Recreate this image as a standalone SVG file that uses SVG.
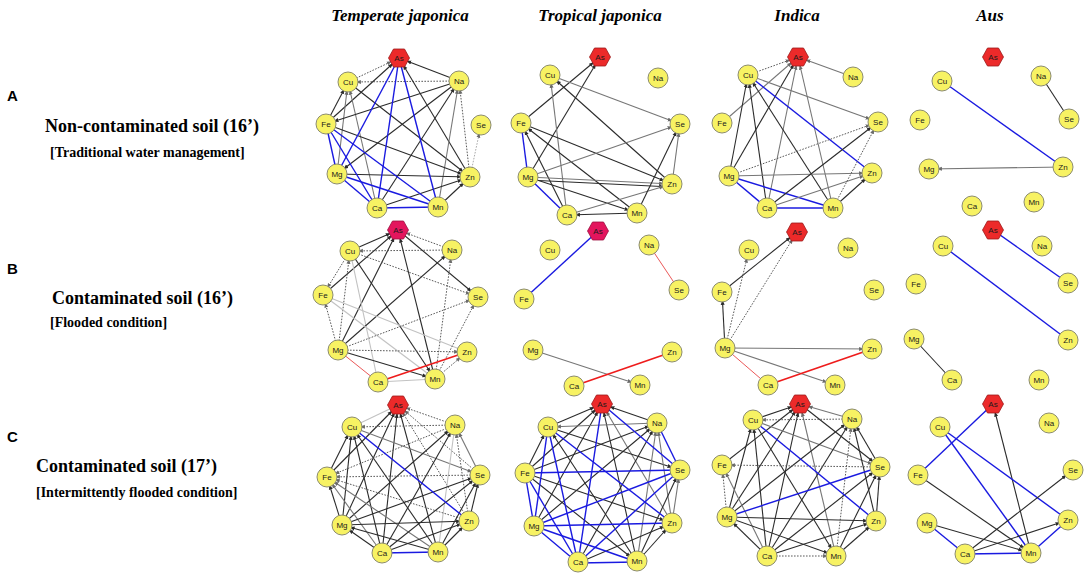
<svg xmlns="http://www.w3.org/2000/svg" xmlns:xlink="http://www.w3.org/1999/xlink" width="1084" height="573" viewBox="0 0 1084 573">
<defs>
<polygon id="hex" points="-10.5,0 -5.5,-9 5.5,-9 10.5,0 5.5,9 -5.5,9"/>
<marker id="ahk" viewBox="0 -3 6 6" refX="15.5" refY="0" markerWidth="5" markerHeight="5" markerUnits="userSpaceOnUse" orient="auto"><path d="M0,-2.4 L6,0 L0,2.4 Z" fill="#2b2b2b"/></marker>
<marker id="ahg" viewBox="0 -3 6 6" refX="15.5" refY="0" markerWidth="5" markerHeight="5" markerUnits="userSpaceOnUse" orient="auto"><path d="M0,-2.4 L6,0 L0,2.4 Z" fill="#6a6a6a"/></marker>
</defs>
<style>
.k{stroke:#2b2b2b;stroke-width:1.1;marker-end:url(#ahk)}
.g{stroke:#767676;stroke-width:1.1;marker-end:url(#ahg)}
.l{stroke:#c2c2c2;stroke-width:1.1}
.d{stroke:#5a5a5a;stroke-width:1;stroke-dasharray:1.6 1.4;marker-end:url(#ahg)}
.p{stroke:#2b2b2b;stroke-width:1.1}
.b{stroke:#1a1ae0;stroke-width:1.4}
.r{stroke:#ee1c1c;stroke-width:1.7}
.rt{stroke:#e84545;stroke-width:0.9}
.n circle{fill:#f7f263;stroke:#8c8c6e;stroke-width:1}
.n text{font-family:"Liberation Sans",Arial,sans-serif;font-size:8px;text-anchor:middle;fill:#1a1a1a}
.hx{fill:#ec2a2a;stroke:#9c1a1a;stroke-width:0.8}
.hp{fill:#e3155d;stroke:#9c1040;stroke-width:0.8}
.title{font-family:"Liberation Serif","Times New Roman",serif;font-size:17px;font-weight:bold;font-style:italic;text-anchor:middle;fill:#000}
.let{font-family:"Liberation Sans",Arial,sans-serif;font-size:15px;font-weight:bold;fill:#000}
.main{font-family:"Liberation Serif","Times New Roman",serif;font-size:18px;font-weight:bold;fill:#000}
.sub{font-family:"Liberation Serif","Times New Roman",serif;font-size:14px;font-weight:bold;fill:#000}
</style>
<rect width="1084" height="573" fill="#fff"/>

<g id="titles">
<text class="title" x="400" y="21">Temperate japonica</text>
<text class="title" x="600" y="21">Tropical japonica</text>
<text class="title" x="797" y="21">Indica</text>
<text class="title" x="990" y="21">Aus</text>
</g>
<g id="row-labels">
<text class="let" x="7" y="101">A</text>
<text class="main" x="45" y="132">Non-contaminated soil (16’)</text>
<text class="sub" x="50" y="157">[Traditional water management]</text>
<text class="let" x="7" y="274">B</text>
<text class="main" x="52" y="304">Contaminated soil  (16’)</text>
<text class="sub" x="50" y="327">[Flooded condition]</text>
<text class="let" x="7" y="442">C</text>
<text class="main" x="36" y="472">Contaminated soil (17’)</text>
<text class="sub" x="36" y="497">[Intermittently flooded condition]</text>
</g>

<g id="connectors" fill="none">
<!-- A1 -->
<line class="d" x1="348" y1="82" x2="399" y2="58"/>
<line class="k" x1="459" y1="81" x2="399" y2="58"/>
<line class="d" x1="459" y1="81" x2="348" y2="82"/>
<line class="k" x1="326" y1="124" x2="399" y2="58"/>
<line class="k" x1="470" y1="177" x2="399" y2="58"/>
<line class="k" x1="326" y1="124" x2="348" y2="82"/>
<line class="g" x1="337" y1="174" x2="348" y2="82"/>
<line class="g" x1="377" y1="208" x2="348" y2="82"/>
<line class="k" x1="348" y1="82" x2="470" y2="177"/>
<line class="k" x1="459" y1="81" x2="326" y2="124"/>
<line class="k" x1="459" y1="81" x2="337" y2="174"/>
<line class="k" x1="377" y1="208" x2="459" y2="81"/>
<line class="g" x1="438" y1="207" x2="459" y2="81"/>
<line class="d" x1="470" y1="177" x2="459" y2="81"/>
<line class="k" x1="326" y1="124" x2="470" y2="177"/>
<line class="k" x1="337" y1="174" x2="470" y2="177"/>
<line class="k" x1="377" y1="208" x2="470" y2="177"/>
<line class="k" x1="438" y1="207" x2="470" y2="177"/>
<line class="d" x1="470" y1="177" x2="481" y2="125" style="stroke:#aaa"/>
<line class="b" x1="399" y1="58" x2="337" y2="174"/>
<line class="b" x1="399" y1="58" x2="377" y2="208"/>
<line class="b" x1="399" y1="58" x2="438" y2="207"/>
<line class="b" x1="326" y1="124" x2="337" y2="174"/>
<line class="b" x1="326" y1="124" x2="377" y2="208"/>
<line class="b" x1="326" y1="124" x2="438" y2="207"/>
<line class="b" x1="337" y1="174" x2="377" y2="208"/>
<line class="b" x1="337" y1="174" x2="438" y2="207"/>
<line class="b" x1="377" y1="208" x2="438" y2="207"/>
<!-- A2 -->
<line class="k" x1="521" y1="123" x2="600" y2="57"/>
<line class="k" x1="528" y1="177" x2="600" y2="57"/>
<line class="g" x1="550" y1="75" x2="680" y2="124"/>
<line class="k" x1="672" y1="184" x2="550" y2="75"/>
<line class="g" x1="567" y1="215" x2="550" y2="75"/>
<line class="b" x1="521" y1="123" x2="528" y2="177"/>
<line class="k" x1="521" y1="123" x2="672" y2="184"/>
<line class="k" x1="637" y1="213" x2="521" y2="123"/>
<line class="k" x1="567" y1="215" x2="521" y2="123"/>
<line class="g" x1="528" y1="177" x2="680" y2="124"/>
<line class="g" x1="528" y1="177" x2="672" y2="184"/>
<line class="k" x1="528" y1="180" x2="672" y2="187"/>
<line class="k" x1="528" y1="177" x2="637" y2="213"/>
<line class="b" x1="528" y1="177" x2="567" y2="215"/>
<line class="g" x1="567" y1="215" x2="672" y2="184"/>
<line class="k" x1="637" y1="213" x2="567" y2="215"/>
<line class="k" x1="637" y1="213" x2="680" y2="124"/>
<line class="g" x1="672" y1="184" x2="680" y2="124"/>
<!-- A3 -->
<line class="d" x1="748" y1="75" x2="798" y2="57"/>
<line class="g" x1="853" y1="77" x2="798" y2="57"/>
<line class="g" x1="722" y1="123" x2="798" y2="57"/>
<line class="k" x1="729" y1="176" x2="798" y2="57"/>
<line class="g" x1="767" y1="208" x2="798" y2="57"/>
<line class="g" x1="833" y1="208" x2="798" y2="57"/>
<line class="b" x1="748" y1="75" x2="872" y2="173"/>
<line class="g" x1="748" y1="75" x2="878" y2="122"/>
<line class="k" x1="729" y1="176" x2="748" y2="75"/>
<line class="k" x1="767" y1="208" x2="748" y2="75"/>
<line class="k" x1="833" y1="208" x2="748" y2="75"/>
<line class="d" x1="729" y1="176" x2="878" y2="122"/>
<line class="g" x1="729" y1="176" x2="872" y2="173"/>
<line class="b" x1="729" y1="176" x2="833" y2="208"/>
<line class="b" x1="729" y1="176" x2="767" y2="208"/>
<line class="k" x1="767" y1="208" x2="878" y2="122"/>
<line class="g" x1="767" y1="208" x2="872" y2="173"/>
<line class="b" x1="767" y1="208" x2="833" y2="208"/>
<line class="d" x1="833" y1="208" x2="878" y2="122"/>
<line class="k" x1="833" y1="208" x2="872" y2="173"/>
<!-- A4 -->
<line class="b" x1="942" y1="81" x2="1063" y2="167"/>
<line class="p" x1="1041" y1="76" x2="1069" y2="119"/>
<line class="g" x1="1063" y1="167" x2="929" y2="169"/>
<!-- B1 -->
<line class="k" x1="350" y1="251" x2="398" y2="230"/>
<line class="d" x1="452" y1="250" x2="398" y2="230"/>
<line class="k" x1="323" y1="295" x2="398" y2="230"/>
<line class="k" x1="338" y1="350" x2="398" y2="230"/>
<line class="k" x1="435" y1="379" x2="398" y2="230"/>
<line class="k" x1="398" y1="230" x2="478" y2="297"/>
<line class="d" x1="452" y1="250" x2="350" y2="251"/>
<line class="d" x1="350" y1="251" x2="478" y2="297"/>
<line class="k" x1="350" y1="251" x2="435" y2="379"/>
<line class="l" x1="350" y1="251" x2="378" y2="382"/>
<line class="d" x1="350" y1="251" x2="323" y2="295"/>
<line class="d" x1="338" y1="350" x2="350" y2="251"/>
<line class="k" x1="338" y1="350" x2="452" y2="250"/>
<line class="d" x1="435" y1="379" x2="452" y2="250"/>
<line class="d" x1="338" y1="350" x2="323" y2="295"/>
<line class="l" x1="323" y1="295" x2="467" y2="352"/>
<line class="l" x1="323" y1="295" x2="435" y2="379"/>
<line class="d" x1="338" y1="350" x2="478" y2="297"/>
<line class="d" x1="435" y1="379" x2="478" y2="297"/>
<line class="d" x1="338" y1="350" x2="467" y2="352"/>
<line class="k" x1="338" y1="350" x2="435" y2="379"/>
<line class="rt" x1="338" y1="350" x2="378" y2="382"/>
<line class="r" x1="378" y1="382" x2="467" y2="352"/>
<line class="l" x1="378" y1="382" x2="435" y2="379"/>
<line class="d" x1="435" y1="379" x2="467" y2="352"/>
<!-- B2 -->
<line class="b" x1="598" y1="231" x2="524" y2="299"/>
<line class="rt" x1="649" y1="245" x2="679" y2="290"/>
<line class="g" x1="533" y1="350" x2="640" y2="385"/>
<line class="r" x1="574" y1="386" x2="672" y2="352"/>
<!-- B3 -->
<line class="k" x1="722" y1="292" x2="797" y2="232"/>
<line class="d" x1="725" y1="348" x2="797" y2="232"/>
<line class="d" x1="725" y1="348" x2="749" y2="250"/>
<line class="k" x1="725" y1="348" x2="722" y2="292"/>
<line class="g" x1="725" y1="348" x2="872" y2="349"/>
<line class="g" x1="725" y1="348" x2="835" y2="385"/>
<line class="rt" x1="725" y1="348" x2="768" y2="385"/>
<line class="r" x1="768" y1="385" x2="872" y2="349"/>
<!-- B4 -->
<line class="b" x1="993" y1="230" x2="1068" y2="283"/>
<line class="b" x1="943" y1="246" x2="1068" y2="340"/>
<line class="p" x1="914" y1="339" x2="952" y2="380"/>
<!-- C1 -->
<line class="l" x1="352" y1="427" x2="398" y2="405"/>
<line class="d" x1="455" y1="425" x2="398" y2="405"/>
<line class="k" x1="327" y1="477" x2="398" y2="405"/>
<line class="k" x1="342" y1="525" x2="398" y2="405"/>
<line class="k" x1="382" y1="553" x2="398" y2="405"/>
<line class="k" x1="438" y1="552" x2="398" y2="405"/>
<line class="d" x1="480" y1="475" x2="398" y2="405"/>
<line class="d" x1="469" y1="521" x2="398" y2="405"/>
<line class="d" x1="455" y1="425" x2="352" y2="427"/>
<line class="g" x1="352" y1="427" x2="480" y2="475"/>
<line class="k" x1="327" y1="477" x2="352" y2="427"/>
<line class="k" x1="342" y1="525" x2="352" y2="427"/>
<line class="k" x1="382" y1="553" x2="352" y2="427"/>
<line class="k" x1="438" y1="552" x2="352" y2="427"/>
<line class="d" x1="455" y1="425" x2="327" y2="477"/>
<line class="k" x1="342" y1="525" x2="455" y2="425"/>
<line class="k" x1="382" y1="553" x2="455" y2="425"/>
<line class="l" x1="455" y1="425" x2="438" y2="552"/>
<line class="d" x1="469" y1="521" x2="455" y2="425"/>
<line class="g" x1="480" y1="475" x2="455" y2="425"/>
<line class="d" x1="480" y1="475" x2="327" y2="477"/>
<line class="d" x1="469" y1="521" x2="327" y2="477"/>
<line class="k" x1="342" y1="525" x2="327" y2="477"/>
<line class="g" x1="382" y1="553" x2="327" y2="477"/>
<line class="g" x1="438" y1="552" x2="327" y2="477"/>
<line class="k" x1="342" y1="525" x2="480" y2="475"/>
<line class="k" x1="382" y1="553" x2="480" y2="475"/>
<line class="k" x1="438" y1="552" x2="480" y2="475"/>
<line class="k" x1="469" y1="521" x2="480" y2="475"/>
<line class="k" x1="342" y1="525" x2="469" y2="521"/>
<line class="k" x1="438" y1="552" x2="342" y2="525"/>
<line class="k" x1="382" y1="553" x2="342" y2="525"/>
<line class="k" x1="382" y1="553" x2="469" y2="521"/>
<line class="k" x1="438" y1="552" x2="469" y2="521"/>
<line class="b" x1="352" y1="427" x2="469" y2="521"/>
<line class="b" x1="382" y1="553" x2="438" y2="552"/>
<!-- C2 -->
<line class="k" x1="548" y1="427" x2="602" y2="404"/>
<line class="k" x1="657" y1="423" x2="602" y2="404"/>
<line class="k" x1="525" y1="473" x2="602" y2="404"/>
<line class="k" x1="534" y1="526" x2="602" y2="404"/>
<line class="k" x1="637" y1="562" x2="602" y2="404"/>
<line class="g" x1="672" y1="523" x2="602" y2="404"/>
<line class="g" x1="657" y1="423" x2="548" y2="427"/>
<line class="k" x1="548" y1="427" x2="680" y2="470"/>
<line class="k" x1="525" y1="473" x2="548" y2="427"/>
<line class="k" x1="637" y1="562" x2="548" y2="427"/>
<line class="k" x1="525" y1="473" x2="657" y2="423"/>
<line class="k" x1="534" y1="526" x2="657" y2="423"/>
<line class="k" x1="578" y1="563" x2="657" y2="423"/>
<line class="g" x1="637" y1="562" x2="657" y2="423"/>
<line class="g" x1="672" y1="523" x2="657" y2="423"/>
<line class="k" x1="525" y1="473" x2="672" y2="523"/>
<line class="k" x1="525" y1="473" x2="637" y2="562"/>
<line class="k" x1="637" y1="562" x2="680" y2="470"/>
<line class="g" x1="672" y1="523" x2="680" y2="470"/>
<line class="k" x1="578" y1="563" x2="672" y2="523"/>
<line class="k" x1="637" y1="562" x2="672" y2="523"/>
<line class="b" x1="602" y1="404" x2="578" y2="563"/>
<line class="b" x1="602" y1="404" x2="680" y2="470"/>
<line class="b" x1="548" y1="427" x2="672" y2="523"/>
<line class="b" x1="548" y1="427" x2="534" y2="526"/>
<line class="b" x1="548" y1="427" x2="578" y2="563"/>
<line class="b" x1="657" y1="423" x2="680" y2="470"/>
<line class="b" x1="525" y1="473" x2="680" y2="470"/>
<line class="b" x1="525" y1="473" x2="578" y2="563"/>
<line class="b" x1="525" y1="473" x2="534" y2="526"/>
<line class="b" x1="680" y1="470" x2="534" y2="526"/>
<line class="b" x1="680" y1="470" x2="578" y2="563"/>
<line class="b" x1="534" y1="526" x2="672" y2="523"/>
<line class="b" x1="534" y1="526" x2="637" y2="562"/>
<line class="b" x1="534" y1="526" x2="578" y2="563"/>
<line class="b" x1="578" y1="563" x2="637" y2="562"/>
<!-- C3 -->
<line class="g" x1="852" y1="419" x2="800" y2="404"/>
<line class="k" x1="753" y1="420" x2="800" y2="404"/>
<line class="k" x1="722" y1="465" x2="800" y2="404"/>
<line class="k" x1="727" y1="517" x2="800" y2="404"/>
<line class="k" x1="767" y1="556" x2="800" y2="404"/>
<line class="k" x1="800" y1="404" x2="880" y2="467"/>
<line class="g" x1="836" y1="556" x2="800" y2="404"/>
<line class="d" x1="852" y1="419" x2="753" y2="420"/>
<line class="g" x1="753" y1="420" x2="880" y2="467"/>
<line class="k" x1="727" y1="517" x2="753" y2="420"/>
<line class="k" x1="767" y1="556" x2="753" y2="420"/>
<line class="k" x1="753" y1="420" x2="836" y2="556"/>
<line class="k" x1="727" y1="517" x2="852" y2="419"/>
<line class="k" x1="767" y1="556" x2="852" y2="419"/>
<line class="d" x1="836" y1="556" x2="852" y2="419"/>
<line class="k" x1="876" y1="521" x2="852" y2="419"/>
<line class="k" x1="880" y1="467" x2="852" y2="419"/>
<line class="d" x1="880" y1="467" x2="722" y2="465"/>
<line class="d" x1="727" y1="517" x2="722" y2="465"/>
<line class="g" x1="767" y1="556" x2="722" y2="465"/>
<line class="k" x1="767" y1="556" x2="880" y2="467"/>
<line class="k" x1="836" y1="556" x2="880" y2="467"/>
<line class="k" x1="876" y1="521" x2="880" y2="467"/>
<line class="k" x1="727" y1="517" x2="876" y2="521"/>
<line class="k" x1="727" y1="517" x2="836" y2="556"/>
<line class="k" x1="767" y1="556" x2="727" y2="517"/>
<line class="k" x1="767" y1="556" x2="876" y2="521"/>
<line class="d" x1="767" y1="556" x2="836" y2="556"/>
<line class="k" x1="836" y1="556" x2="876" y2="521"/>
<line class="b" x1="753" y1="420" x2="876" y2="521"/>
<line class="b" x1="880" y1="467" x2="727" y2="517"/>
<!-- C4 -->
<line class="b" x1="993" y1="404" x2="918" y2="475"/>
<line class="k" x1="1031" y1="553" x2="993" y2="404"/>
<line class="b" x1="940" y1="427" x2="1031" y2="553"/>
<line class="b" x1="940" y1="427" x2="1068" y2="520"/>
<line class="k" x1="918" y1="475" x2="1031" y2="553"/>
<line class="k" x1="965" y1="554" x2="1073" y2="470"/>
<line class="k" x1="927" y1="523" x2="1031" y2="553"/>
<line class="b" x1="927" y1="523" x2="965" y2="554"/>
<line class="k" x1="965" y1="554" x2="1068" y2="520"/>
<line class="b" x1="965" y1="554" x2="1031" y2="553"/>
<line class="b" x1="1031" y1="553" x2="1068" y2="520"/>
</g>

<!-- Row A nodes -->
<g id="a1-as" class="n"><use href="#hex" x="399" y="58" class="hx"/><text x="399" y="61">As</text></g>
<g id="a1-cu" class="n"><circle cx="348" cy="82" r="10"/><text x="348" y="85">Cu</text></g>
<g id="a1-na" class="n"><circle cx="459" cy="81" r="10"/><text x="459" y="84">Na</text></g>
<g id="a1-fe" class="n"><circle cx="326" cy="124" r="10"/><text x="326" y="127">Fe</text></g>
<g id="a1-se" class="n"><circle cx="481" cy="125" r="10"/><text x="481" y="128">Se</text></g>
<g id="a1-mg" class="n"><circle cx="337" cy="174" r="10"/><text x="337" y="177">Mg</text></g>
<g id="a1-zn" class="n"><circle cx="470" cy="177" r="10"/><text x="470" y="180">Zn</text></g>
<g id="a1-ca" class="n"><circle cx="377" cy="208" r="10"/><text x="377" y="211">Ca</text></g>
<g id="a1-mn" class="n"><circle cx="438" cy="207" r="10"/><text x="438" y="210">Mn</text></g>

<g id="a2-as" class="n"><use href="#hex" x="600" y="57" class="hx"/><text x="600" y="60">As</text></g>
<g id="a2-cu" class="n"><circle cx="550" cy="75" r="10"/><text x="550" y="78">Cu</text></g>
<g id="a2-na" class="n"><circle cx="658" cy="78" r="10"/><text x="658" y="81">Na</text></g>
<g id="a2-fe" class="n"><circle cx="521" cy="123" r="10"/><text x="521" y="126">Fe</text></g>
<g id="a2-se" class="n"><circle cx="680" cy="124" r="10"/><text x="680" y="127">Se</text></g>
<g id="a2-mg" class="n"><circle cx="528" cy="177" r="10"/><text x="528" y="180">Mg</text></g>
<g id="a2-zn" class="n"><circle cx="672" cy="184" r="10"/><text x="672" y="187">Zn</text></g>
<g id="a2-ca" class="n"><circle cx="567" cy="215" r="10"/><text x="567" y="218">Ca</text></g>
<g id="a2-mn" class="n"><circle cx="637" cy="213" r="10"/><text x="637" y="216">Mn</text></g>

<g id="a3-as" class="n"><use href="#hex" x="798" y="57" class="hx"/><text x="798" y="60">As</text></g>
<g id="a3-cu" class="n"><circle cx="748" cy="75" r="10"/><text x="748" y="78">Cu</text></g>
<g id="a3-na" class="n"><circle cx="853" cy="77" r="10"/><text x="853" y="80">Na</text></g>
<g id="a3-fe" class="n"><circle cx="722" cy="123" r="10"/><text x="722" y="126">Fe</text></g>
<g id="a3-se" class="n"><circle cx="878" cy="122" r="10"/><text x="878" y="125">Se</text></g>
<g id="a3-mg" class="n"><circle cx="729" cy="176" r="10"/><text x="729" y="179">Mg</text></g>
<g id="a3-zn" class="n"><circle cx="872" cy="173" r="10"/><text x="872" y="176">Zn</text></g>
<g id="a3-ca" class="n"><circle cx="767" cy="208" r="10"/><text x="767" y="211">Ca</text></g>
<g id="a3-mn" class="n"><circle cx="833" cy="208" r="10"/><text x="833" y="211">Mn</text></g>

<g id="a4-as" class="n"><use href="#hex" x="993" y="57" class="hx"/><text x="993" y="60">As</text></g>
<g id="a4-cu" class="n"><circle cx="942" cy="81" r="10"/><text x="942" y="84">Cu</text></g>
<g id="a4-na" class="n"><circle cx="1041" cy="76" r="10"/><text x="1041" y="79">Na</text></g>
<g id="a4-fe" class="n"><circle cx="920" cy="120" r="10"/><text x="920" y="123">Fe</text></g>
<g id="a4-se" class="n"><circle cx="1069" cy="119" r="10"/><text x="1069" y="122">Se</text></g>
<g id="a4-mg" class="n"><circle cx="929" cy="169" r="10"/><text x="929" y="172">Mg</text></g>
<g id="a4-zn" class="n"><circle cx="1063" cy="167" r="10"/><text x="1063" y="170">Zn</text></g>
<g id="a4-ca" class="n"><circle cx="972" cy="206" r="10"/><text x="972" y="209">Ca</text></g>
<g id="a4-mn" class="n"><circle cx="1034" cy="202" r="10"/><text x="1034" y="205">Mn</text></g>

<!-- Row B nodes -->
<g id="b1-as" class="n"><use href="#hex" x="398" y="230" class="hp"/><text x="398" y="233">As</text></g>
<g id="b1-cu" class="n"><circle cx="350" cy="251" r="10"/><text x="350" y="254">Cu</text></g>
<g id="b1-na" class="n"><circle cx="452" cy="250" r="10"/><text x="452" y="253">Na</text></g>
<g id="b1-fe" class="n"><circle cx="323" cy="295" r="10"/><text x="323" y="298">Fe</text></g>
<g id="b1-se" class="n"><circle cx="478" cy="297" r="10"/><text x="478" y="300">Se</text></g>
<g id="b1-mg" class="n"><circle cx="338" cy="350" r="10"/><text x="338" y="353">Mg</text></g>
<g id="b1-zn" class="n"><circle cx="467" cy="352" r="10"/><text x="467" y="355">Zn</text></g>
<g id="b1-ca" class="n"><circle cx="378" cy="382" r="10"/><text x="378" y="385">Ca</text></g>
<g id="b1-mn" class="n"><circle cx="435" cy="379" r="10"/><text x="435" y="382">Mn</text></g>

<g id="b2-as" class="n"><use href="#hex" x="598" y="231" class="hp"/><text x="598" y="234">As</text></g>
<g id="b2-cu" class="n"><circle cx="550" cy="250" r="10"/><text x="550" y="253">Cu</text></g>
<g id="b2-na" class="n"><circle cx="649" cy="245" r="10"/><text x="649" y="248">Na</text></g>
<g id="b2-fe" class="n"><circle cx="524" cy="299" r="10"/><text x="524" y="302">Fe</text></g>
<g id="b2-se" class="n"><circle cx="679" cy="290" r="10"/><text x="679" y="293">Se</text></g>
<g id="b2-mg" class="n"><circle cx="533" cy="350" r="10"/><text x="533" y="353">Mg</text></g>
<g id="b2-zn" class="n"><circle cx="672" cy="352" r="10"/><text x="672" y="355">Zn</text></g>
<g id="b2-ca" class="n"><circle cx="574" cy="386" r="10"/><text x="574" y="389">Ca</text></g>
<g id="b2-mn" class="n"><circle cx="640" cy="385" r="10"/><text x="640" y="388">Mn</text></g>

<g id="b3-as" class="n"><use href="#hex" x="797" y="232" class="hx"/><text x="797" y="235">As</text></g>
<g id="b3-cu" class="n"><circle cx="749" cy="250" r="10"/><text x="749" y="253">Cu</text></g>
<g id="b3-na" class="n"><circle cx="848" cy="248" r="10"/><text x="848" y="251">Na</text></g>
<g id="b3-fe" class="n"><circle cx="722" cy="292" r="10"/><text x="722" y="295">Fe</text></g>
<g id="b3-se" class="n"><circle cx="874" cy="290" r="10"/><text x="874" y="293">Se</text></g>
<g id="b3-mg" class="n"><circle cx="725" cy="348" r="10"/><text x="725" y="351">Mg</text></g>
<g id="b3-zn" class="n"><circle cx="872" cy="349" r="10"/><text x="872" y="352">Zn</text></g>
<g id="b3-ca" class="n"><circle cx="768" cy="385" r="10"/><text x="768" y="388">Ca</text></g>
<g id="b3-mn" class="n"><circle cx="835" cy="385" r="10"/><text x="835" y="388">Mn</text></g>

<g id="b4-as" class="n"><use href="#hex" x="993" y="230" class="hx"/><text x="993" y="233">As</text></g>
<g id="b4-cu" class="n"><circle cx="943" cy="246" r="10"/><text x="943" y="249">Cu</text></g>
<g id="b4-na" class="n"><circle cx="1042" cy="246" r="10"/><text x="1042" y="249">Na</text></g>
<g id="b4-fe" class="n"><circle cx="916" cy="284" r="10"/><text x="916" y="287">Fe</text></g>
<g id="b4-se" class="n"><circle cx="1068" cy="283" r="10"/><text x="1068" y="286">Se</text></g>
<g id="b4-mg" class="n"><circle cx="914" cy="339" r="10"/><text x="914" y="342">Mg</text></g>
<g id="b4-zn" class="n"><circle cx="1068" cy="340" r="10"/><text x="1068" y="343">Zn</text></g>
<g id="b4-ca" class="n"><circle cx="952" cy="380" r="10"/><text x="952" y="383">Ca</text></g>
<g id="b4-mn" class="n"><circle cx="1039" cy="380" r="10"/><text x="1039" y="383">Mn</text></g>

<!-- Row C nodes -->
<g id="c1-as" class="n"><use href="#hex" x="398" y="405" class="hx"/><text x="398" y="408">As</text></g>
<g id="c1-cu" class="n"><circle cx="352" cy="427" r="10"/><text x="352" y="430">Cu</text></g>
<g id="c1-na" class="n"><circle cx="455" cy="425" r="10"/><text x="455" y="428">Na</text></g>
<g id="c1-fe" class="n"><circle cx="327" cy="477" r="10"/><text x="327" y="480">Fe</text></g>
<g id="c1-se" class="n"><circle cx="480" cy="475" r="10"/><text x="480" y="478">Se</text></g>
<g id="c1-mg" class="n"><circle cx="342" cy="525" r="10"/><text x="342" y="528">Mg</text></g>
<g id="c1-zn" class="n"><circle cx="469" cy="521" r="10"/><text x="469" y="524">Zn</text></g>
<g id="c1-ca" class="n"><circle cx="382" cy="553" r="10"/><text x="382" y="556">Ca</text></g>
<g id="c1-mn" class="n"><circle cx="438" cy="552" r="10"/><text x="438" y="555">Mn</text></g>

<g id="c2-as" class="n"><use href="#hex" x="602" y="404" class="hx"/><text x="602" y="407">As</text></g>
<g id="c2-cu" class="n"><circle cx="548" cy="427" r="10"/><text x="548" y="430">Cu</text></g>
<g id="c2-na" class="n"><circle cx="657" cy="423" r="10"/><text x="657" y="426">Na</text></g>
<g id="c2-fe" class="n"><circle cx="525" cy="473" r="10"/><text x="525" y="476">Fe</text></g>
<g id="c2-se" class="n"><circle cx="680" cy="470" r="10"/><text x="680" y="473">Se</text></g>
<g id="c2-mg" class="n"><circle cx="534" cy="526" r="10"/><text x="534" y="529">Mg</text></g>
<g id="c2-zn" class="n"><circle cx="672" cy="523" r="10"/><text x="672" y="526">Zn</text></g>
<g id="c2-ca" class="n"><circle cx="578" cy="562" r="10"/><text x="578" y="565">Ca</text></g>
<g id="c2-mn" class="n"><circle cx="637" cy="561" r="10"/><text x="637" y="564">Mn</text></g>

<g id="c3-as" class="n"><use href="#hex" x="800" y="404" class="hx"/><text x="800" y="407">As</text></g>
<g id="c3-cu" class="n"><circle cx="753" cy="420" r="10"/><text x="753" y="423">Cu</text></g>
<g id="c3-na" class="n"><circle cx="852" cy="419" r="10"/><text x="852" y="422">Na</text></g>
<g id="c3-fe" class="n"><circle cx="722" cy="465" r="10"/><text x="722" y="468">Fe</text></g>
<g id="c3-se" class="n"><circle cx="880" cy="467" r="10"/><text x="880" y="470">Se</text></g>
<g id="c3-mg" class="n"><circle cx="727" cy="517" r="10"/><text x="727" y="520">Mg</text></g>
<g id="c3-zn" class="n"><circle cx="876" cy="521" r="10"/><text x="876" y="524">Zn</text></g>
<g id="c3-ca" class="n"><circle cx="767" cy="556" r="10"/><text x="767" y="559">Ca</text></g>
<g id="c3-mn" class="n"><circle cx="836" cy="556" r="10"/><text x="836" y="559">Mn</text></g>

<g id="c4-as" class="n"><use href="#hex" x="993" y="404" class="hx"/><text x="993" y="407">As</text></g>
<g id="c4-cu" class="n"><circle cx="940" cy="427" r="10"/><text x="940" y="430">Cu</text></g>
<g id="c4-na" class="n"><circle cx="1049" cy="423" r="10"/><text x="1049" y="426">Na</text></g>
<g id="c4-fe" class="n"><circle cx="918" cy="475" r="10"/><text x="918" y="478">Fe</text></g>
<g id="c4-se" class="n"><circle cx="1073" cy="470" r="10"/><text x="1073" y="473">Se</text></g>
<g id="c4-mg" class="n"><circle cx="927" cy="523" r="10"/><text x="927" y="526">Mg</text></g>
<g id="c4-zn" class="n"><circle cx="1068" cy="520" r="10"/><text x="1068" y="523">Zn</text></g>
<g id="c4-ca" class="n"><circle cx="965" cy="554" r="10"/><text x="965" y="557">Ca</text></g>
<g id="c4-mn" class="n"><circle cx="1031" cy="553" r="10"/><text x="1031" y="556">Mn</text></g>
</svg>
